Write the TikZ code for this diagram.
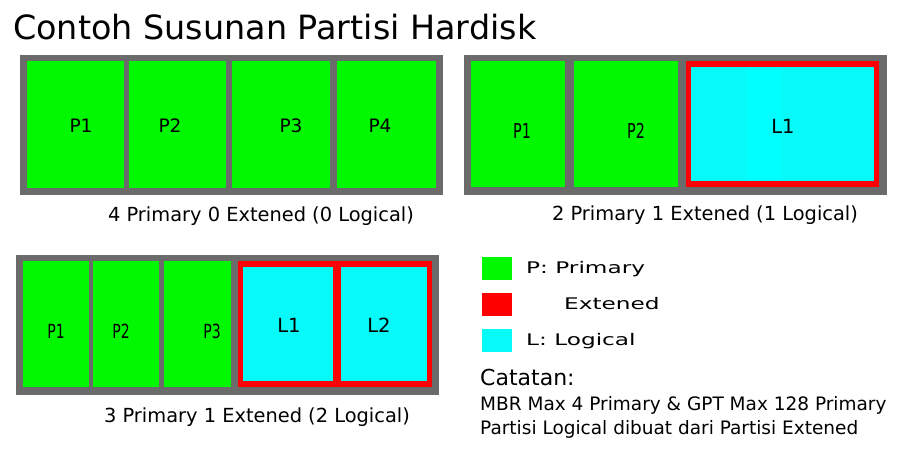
\documentclass[tikz,border=0pt]{standalone}
\usepackage{fontspec}
\setmainfont{DejaVu Sans}
\definecolor{diskgray}{HTML}{6B6B6B}
\definecolor{pgreen}{HTML}{00F800}
\definecolor{ered}{HTML}{FF0000}
\definecolor{lcyan}{HTML}{06FAF8}
\definecolor{lcyanb}{HTML}{00FFFF}
\tikzset{
  lbl/.style={inner sep=0pt, anchor=center},
  txt/.style={inner sep=0pt, anchor=base west},
  captext/.style={inner sep=0pt, anchor=base, font=\fontsize{19.4}{19.4}\selectfont},
}
\newcommand{\fs}[1]{\fontsize{#1}{#1}\selectfont}
\begin{document}
\begin{tikzpicture}[x=1pt,y=-1pt]
\useasboundingbox (0,0) rectangle (898,449);
\fill[white] (0,0) rectangle (898,449);
% title
\node[txt] (title) at (13,40) {\fs{33.4}Contoh Susunan Partisi Hardisk};

% panel 1
\fill[diskgray] (20,55) rectangle (443,195);
\fill[pgreen] (27,61) rectangle (124,188);
\fill[pgreen] (129,61) rectangle (226,188);
\fill[pgreen] (232,61) rectangle (330,188);
\fill[pgreen] (337,61) rectangle (436,188);
\node[lbl] (a1) at (81,126) {\fs{18.5}P1};
\node[lbl] (a2) at (170,126) {\fs{18.5}P2};
\node[lbl] (a3) at (291,126) {\fs{18.5}P3};
\node[lbl] (a4) at (380,126) {\fs{18.5}P4};
\node[captext] (c1) at (261,222) {4 Primary 0 Extened (0 Logical)};

% panel 2
\fill[diskgray] (464,55) rectangle (887,195);
\fill[pgreen] (471,61) rectangle (565,187);
\fill[pgreen] (574,61) rectangle (678,187);
\fill[ered] (686,61) rectangle (879,187);
\fill[lcyan] (691,67) rectangle (874,181);
\fill[lcyanb] (747,67) rectangle (781,181);
\node[lbl] (b1) at (522,131) {\scalebox{0.7}[1]{\fs{20.5}P1}};
\node[lbl] (b2) at (636,131) {\scalebox{0.7}[1]{\fs{20.5}P2}};
\node[lbl] (b3) at (783,126) {\fs{19.5}L1};
\node[captext] (c2) at (705,221) {2 Primary 1 Extened (1 Logical)};

% panel 3
\fill[diskgray] (16,255) rectangle (439,395);
\fill[pgreen] (23,261) rectangle (89,387);
\fill[pgreen] (93,261) rectangle (159,387);
\fill[pgreen] (164,261) rectangle (231,387);
\fill[ered] (238,261) rectangle (432,387);
\fill[lcyan] (243,267) rectangle (333,381);
\fill[lcyan] (341,267) rectangle (427,381);
\node[lbl] (d1) at (56,331) {\scalebox{0.72}[1]{\fs{19.5}P1}};
\node[lbl] (d2) at (121,331) {\scalebox{0.72}[1]{\fs{19.5}P2}};
\node[lbl] (d3) at (212,331) {\scalebox{0.72}[1]{\fs{19.5}P3}};
\node[lbl] (d4) at (289,325) {\fs{19.5}L1};
\node[lbl] (d5) at (379,325) {\fs{19.5}L2};
\node[captext] (c3) at (257,422) {3 Primary 1 Extened (2 Logical)};

% legend
\fill[pgreen] (482,257) rectangle (512,280);
\fill[ered] (482,293) rectangle (512,316);
\fill[lcyan] (482,329) rectangle (512,352);
\node[txt] (lg1) at (526,274) {\scalebox{1.45}[1]{\fs{16}P: Primary}};
\node[txt] (lg2) at (564,310) {\scalebox{1.45}[1]{\fs{16}Extened}};
\node[txt] (lg3) at (526,346) {\scalebox{1.45}[1]{\fs{16}L: Logical}};

% notes
\node[txt] (n0) at (480,385) {\fs{22}Catatan:};
\node[txt] (n1) at (480,410) {\fs{18.5}MBR Max 4 Primary \& GPT Max 128 Primary};
\node[txt] (n2) at (480,435) {\fs{18.5}Partisi Logical dibuat dari Partisi Extened};
\end{tikzpicture}
\end{document}
